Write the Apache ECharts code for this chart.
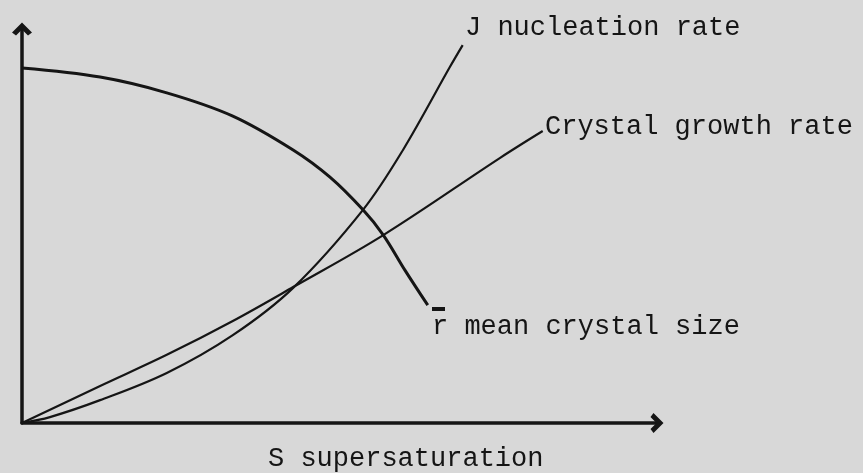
<!DOCTYPE html>
<html>
<head>
<meta charset="utf-8">
<script src="https://cdn.jsdelivr.net/npm/echarts@6/dist/echarts.min.js"></script>
<style>
  html, body { margin: 0; padding: 0; background: #d8d8d8; }
  #main { width: 863px; height: 473px; }
</style>
</head>
<body>
<div id="main"></div>
<script>
// schematic curves, arbitrary units 0-100 on both axes
const sizeS = [0, 12.3, 22.8, 33.2, 42.7, 48.5, 53.7, 56.9, 60.3, 63.9]
const sizeR = [90.1, 87.8, 83.8, 77.9, 69.3, 62.4, 54.1, 47.7, 38.8, 29.9]
const nuclS = [0, 4.4, 12.3, 22.8, 33.2, 42.7, 53.7, 60.0, 67.4, 69.4]
const nuclJ = [0, 1.5, 5.8, 12.7, 22.3, 34.3, 54.1, 69.3, 90.4, 95.9]
const growS = [0, 12.3, 22.8, 33.2, 42.7, 56.9, 75.3, 82.0]
const growG = [0, 9.4, 17.3, 25.9, 34.5, 47.7, 67.3, 74.1]

const labels = ['J nucleation rate', 'Crystal growth rate', 'r mean crystal size', 'S supersaturation']

const zip = (xs, ys) => xs.map((x, i) => [x, ys[i]])

const INK = '#151515'
const ARROW = 'path://M0,10 L10,0 L20,10 L16,13 L10,7 L4,13 Z'

function axis() {
  return {
    type: 'value',
    min: 0,
    max: 100,
    axisLine: {
      show: true,
      symbol: ['none', ARROW],
      symbolSize: [20, 13],
      lineStyle: { color: INK, width: 3.5 }
    },
    axisTick: { show: false },
    axisLabel: { show: false },
    splitLine: { show: false }
  }
}

function curve(data, w) {
  return {
    type: 'line',
    data: data,
    smooth: 0.35,
    showSymbol: false,
    silent: true,
    lineStyle: { color: INK, width: w }
  }
}

function label(text, x, y) {
  return {
    type: 'text',
    x: x,
    y: y,
    style: {
      text: text,
      fontFamily: '"Liberation Mono", monospace',
      fontSize: 27,
      fill: INK,
      verticalAlign: 'middle'
    }
  }
}

const myChart = echarts.init(document.getElementById('main'))
var option = {
  backgroundColor: '#d8d8d8',
  animation: false,
  grid: { left: 22, top: 29, right: 206, bottom: 50 },
  xAxis: axis(),
  yAxis: axis(),
  series: [
    curve(zip(sizeS, sizeR), 3),
    curve(zip(nuclS, nuclJ), 2.2),
    curve(zip(growS, growG), 2.2)
  ],
  graphic: [
    label(labels[0], 465, 28),
    label(labels[1], 545, 127),
    label(labels[2], 432, 327),
    label(labels[3], 268, 459),
    // bar over the r
    { type: 'rect', shape: { x: 432, y: 307, width: 13, height: 4 }, style: { fill: INK } }
  ]
}
option && myChart.setOption(option)
</script>
</body>
</html>
